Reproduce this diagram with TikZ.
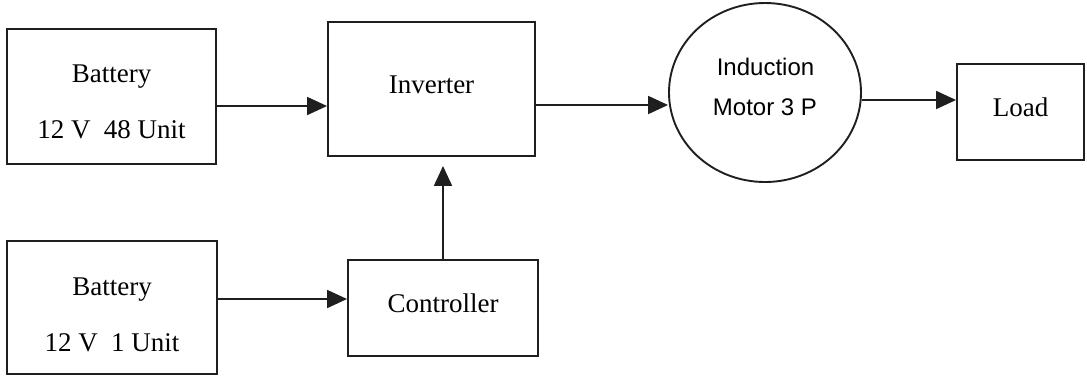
\documentclass[tikz,border=0pt]{standalone}
\usepackage{fontspec}
\setmainfont{Liberation Serif}
\newfontfamily\arialfont{Liberation Sans}
\usetikzlibrary{shapes.geometric,arrows.meta}
\begin{document}
\begin{tikzpicture}[x=1pt,y=-1pt,
  line width=1.9pt,
  box/.style={draw=black!88, rectangle, inner sep=0pt,
    font=\fontsize{27pt}{32pt}\selectfont, text depth=9pt},
  txt/.style={inner sep=0pt, anchor=base, font=\fontsize{27pt}{32pt}\selectfont},
  stxt/.style={inner sep=0pt, anchor=base, font=\arialfont\fontsize{24pt}{28pt}\selectfont},
  arr/.style={draw=black!88, -{Triangle[length=20pt,width=18pt]}},
]
\useasboundingbox (0,0) rectangle (1087,376);

% blocks
\node[box, minimum width=209pt, minimum height=135pt] (b1) at (111.5,96.5) {};
\node[box, minimum width=207pt, minimum height=134pt] (inv) at (431.5,89) {Inverter};
\node[draw=black!88, ellipse, inner sep=0pt, minimum width=192pt, minimum height=179pt] (mot) at (765,92.5) {};
\node[box, minimum width=127pt, minimum height=96pt] (load) at (1020.5,112) {Load};
\node[box, minimum width=210pt, minimum height=133pt] (b2) at (112,307.5) {};
\node[box, minimum width=190pt, minimum height=96pt] (ctl) at (443,308) {Controller};

% texts
\node[txt] (b1a) at (111.5,82) {Battery};
\node[txt] (b1b) at (111.5,138) {12 V\ \ 48 Unit};
\node[txt] (b2a) at (112,295) {Battery};
\node[txt] (b2b) at (112,351) {12 V\ \ 1 Unit};
\node[stxt] (ma) at (765.5,75) {Induction};
\node[stxt] (mb) at (765,115) {Motor 3 P};

% connectors
\coordinate (ya) at (0,106);
\coordinate (yb) at (0,105);
\coordinate (yc) at (0,100);
\coordinate (yd) at (0,299);
\draw[arr] (b1.east |- ya) -- (inv.west |- ya);
\draw[arr] (inv.east |- yb) -- (mot.west |- yb);
\draw[arr] (mot.east |- yc) -- (load.west |- yc);
\draw[arr] (b2.east |- yd) -- (ctl.west |- yd);
\draw[arr, shorten >=9pt] (ctl.north) -- (ctl.north |- inv.south);
\end{tikzpicture}
\end{document}
